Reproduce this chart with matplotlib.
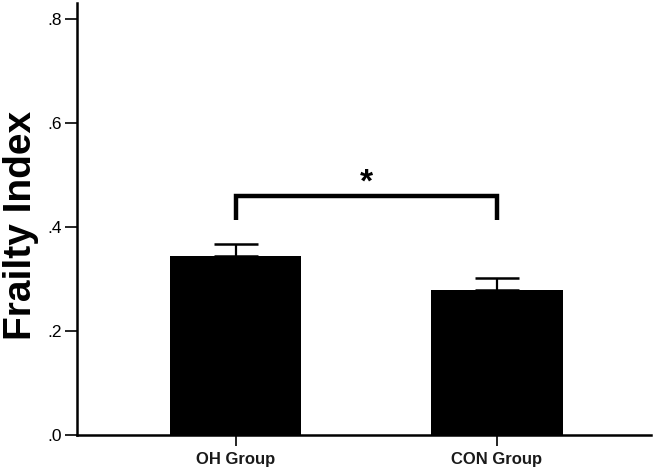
import matplotlib
matplotlib.use("Agg")
import matplotlib.pyplot as plt
from matplotlib.ticker import FuncFormatter

groups = ["OH Group", "CON Group"]
means = [0.344, 0.279]
errors = [0.023, 0.023]
yticks = [0.0, 0.2, 0.4, 0.6, 0.8]
sig_label = "*"
bracket_y = 0.460
bracket_bottom = 0.413

plt.rcParams['font.family'] = ['Liberation Sans', 'DejaVu Sans']

fig = plt.figure(figsize=(6.56, 4.71), dpi=100)
W, H = 656, 471
ax = fig.add_axes([77 / W, (H - 435) / H, (651 - 77) / W, (435 - 3) / H])

x = list(range(len(groups)))
ax.bar(x, means, width=0.502, color='black', zorder=2)
ax.errorbar(x, [m + e / 2 for m, e in zip(means, errors)], yerr=[[e / 2 for e in errors], [e / 2 for e in errors]],
            fmt='none', ecolor='black', elinewidth=1.6, capsize=15.5, capthick=1.8, zorder=3)

ax.set_xlim(-0.609, 1.590)
ax.set_ylim(0, 0.831)
ax.set_yticks(yticks)
ax.yaxis.set_major_formatter(FuncFormatter(lambda v, p: ("%.1f" % v).lstrip('0')))
ax.set_xticks(x)
ax.set_xticklabels(groups, fontsize=12, fontweight='bold', color='#1a1a1a')
ax.tick_params(axis='y', labelsize=12.5, length=9, width=1.2, pad=2, colors='black')
ax.tick_params(axis='x', length=8, width=1.2, pad=4)

for s in ['top', 'right']:
    ax.spines[s].set_visible(False)
for s in ['left', 'bottom']:
    ax.spines[s].set_linewidth(1.8)

fig.text(31.5 / W, 1 - 225 / H, "Frailty Index", rotation=90, rotation_mode='anchor',
         ha='center', va='baseline', fontsize=28, fontweight='bold')

# significance bracket
ax.plot([x[0], x[0], x[1], x[1]], [bracket_bottom, bracket_y, bracket_y, bracket_bottom],
        color='black', lw=3.2, solid_capstyle='butt', solid_joinstyle='miter', zorder=4)
ax.text((x[0] + x[1]) / 2, bracket_y - 0.006, sig_label, ha='center', va='bottom',
        fontsize=24, fontweight='bold')

fig.savefig("out.png", dpi=100)
